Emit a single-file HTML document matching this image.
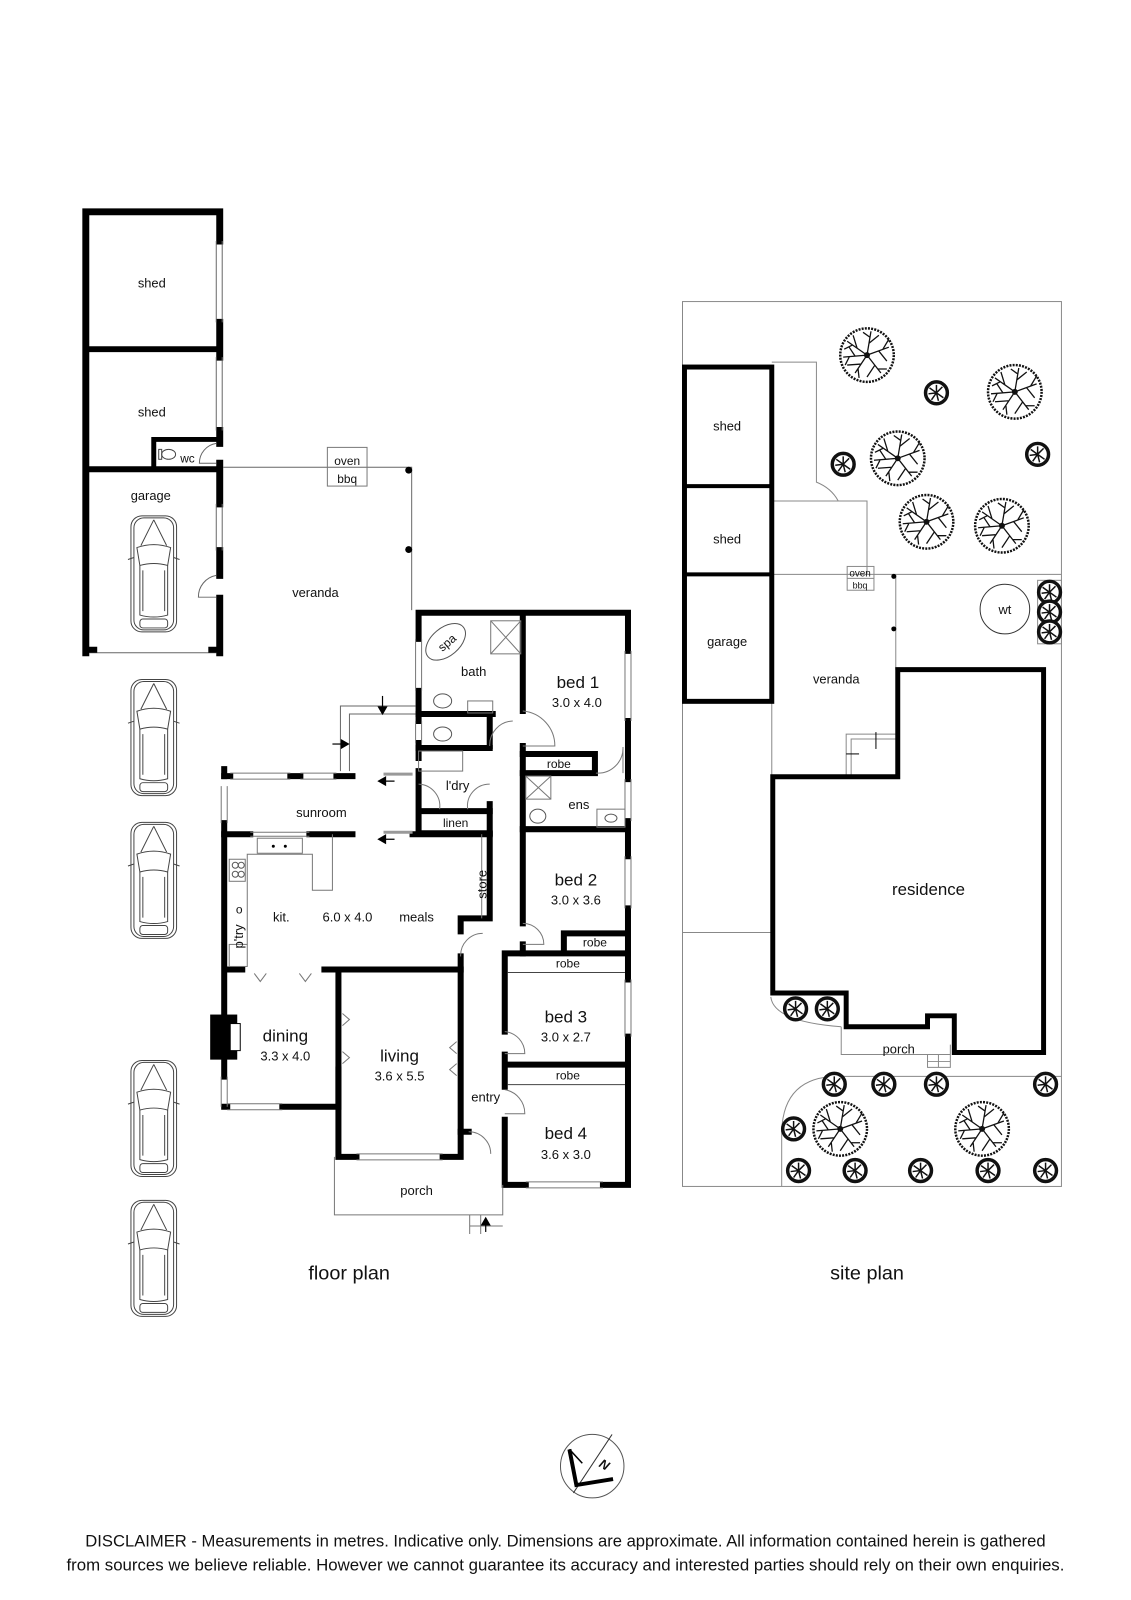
<!DOCTYPE html>
<html><head><meta charset="utf-8"><style>
html,body{margin:0;padding:0;background:#fff}
svg{display:block}
text{font-family:"Liberation Sans",sans-serif;fill:#111}
</style></head><body>
<svg width="1131" height="1600" viewBox="0 0 1131 1600" xmlns="http://www.w3.org/2000/svg">
<defs>
<g id="car" fill="none" stroke="#444" stroke-width="1">
<rect x="0" y="0" width="46" height="117" rx="11"/>
<rect x="3" y="2" width="40" height="113" rx="10"/>
<path d="M6 32 Q23 26 40 32 L37 50 Q23 46 9 50 Z"/>
<path d="M9 50 L9 100 Q23 104 37 100 L37 50"/>
<path d="M12 55 L12 96 M34 55 L34 96"/>
<path d="M23 4 L10 30 M23 4 L36 30"/>
<path d="M-3 44 L3 42 M49 44 L43 42"/>
<rect x="9" y="104" width="28" height="9" rx="3"/>
</g>
<g id="tbig">
<circle r="27" fill="#fff" stroke="#111" stroke-width="2.5" stroke-dasharray="2 1.2"/>
<g stroke="#111" stroke-width="1.3" fill="none">
<path d="M0 0 L-20 -14 M-10 -7 L-14 -20 M-15 -10 L-23 -6 M0 0 L4 -24 M2 -12 L12 -20 M3 -18 L-4 -23 M0 0 L22 -8 M12 -4 L20 6 M16 -6 L22 -16 M0 0 L14 18 M8 10 L0 22 M11 14 L20 14 M0 0 L-12 18 M-6 9 L-20 10 M-9 14 L-8 23 M0 0 L-24 2 M-12 1 L-18 -8 M-18 2 L-22 10"/>
</g>
<circle r="3" fill="#111"/>
</g>
<g id="tsm">
<circle r="11" fill="#fff" stroke="#111" stroke-width="3.5"/>
<path d="M0 0 L-7 -5 M0 0 L6 -6 M0 0 L7 5 M0 0 L-5 7 M0 0 L0 -8 M0 0 L-8 1 M0 0 L2 8" stroke="#111" stroke-width="1.5"/>
</g>
</defs>
<g transform="scale(0.992)">
<!-- ===== FLOOR PLAN ===== -->
<g stroke="#000" fill="none" stroke-linecap="square">
<path d="M86.5 658 V213.5 H221.5 V243" stroke-width="7"/>
<path d="M221.5 325 V360 M221.5 434 V447 M221.5 467 V508 M221.5 555 V580 M221.5 603 V658" stroke-width="7"/>
<path d="M90 352 H218 M90 473 H218" stroke-width="6"/>
<path d="M155 473 V443 H218" stroke-width="5"/>
</g>
<g stroke="#666" stroke-width="1" fill="none">
<path d="M218 243 V325 M224 243 V325 M218 360 V434 M224 360 V434 M218 508 V555 M224 508 V555"/>
<path d="M90 658 H218"/>
<path d="M218 447 A20 20 0 0 0 201 467 H218"/>
<path d="M218 580 A22 22 0 0 0 200 602 H218"/>
<path d="M225 471 H415 V615"/>
<rect x="330" y="451" width="40" height="39" stroke="#777"/>
</g>
<path d="M86 655 H98 M210 655 H222" stroke="#000" stroke-width="6"/>
<circle cx="412" cy="474" r="3.5"/><circle cx="412" cy="554" r="3.5"/>
<ellipse cx="170" cy="458" rx="7" ry="5" fill="none" stroke="#444"/>
<rect x="160" y="453" width="3" height="10" fill="none" stroke="#444"/>
<use href="#car" x="132" y="520"/>

<g font-size="13" text-anchor="middle">
<text x="153" y="290">shed</text>
<text x="153" y="420">shed</text>
<text x="189" y="466" font-size="12">wc</text>
<text x="152" y="504">garage</text>
<text x="350" y="469" font-size="12">oven</text>
<text x="350" y="487" font-size="12">bbq</text>
<text x="318" y="602">veranda</text>
</g>

<g transform="translate(1.8,-0.4) scale(1.01)">
<g stroke="#000" fill="none" stroke-width="6" stroke-linecap="square">
<path d="M416 638 V612 H625 V650"/>
<path d="M416 690 V720 M416 742 V757"/>
<path d="M625 720 V778 M625 820 V855 M625 907 V978 M625 1035 V1183 H600 M523 1183 H502 V1118"/>
<path d="M416 713 H490 M416 747 H487 M416 770 V832 H487 M419 810 H487"/>
<path d="M487 713 V745 M487 803 V917 H458 V930 M458 955 V1130 H466"/>
<path d="M520 615 V710 M520 745 V922 M520 943 V952"/>
<path d="M520 753 H592 V772 H520 M520 828 H625"/>
<path d="M561 948 V932 H622 M502 952 H625 V952 M502 952 V1030 M502 1063 H625 M502 1053 V1083 M502 1063 V1085"/>
<path d="M222 775 V768 M222 822 V1013 M222 1058 V1075 M222 1105 H225 M280 1105 H336 V968 M222 968 H240 M322 968 H458"/>
<path d="M336 1068 V1155 H354 M440 1155 H458 V1130"/>
<path d="M222 775 H228 M288 775 H298 M334 775 H350 M222 833 H248 M307 833 H350 M410 833 H487"/>
</g>
<rect x="208" y="1013" width="27" height="45" fill="#000"/>
<rect x="228" y="1022" width="10" height="27" fill="#fff" stroke="#000"/>
<g stroke="#777" stroke-width="1" fill="none">
<path d="M419 638 V690 M413 638 V690 M419 720 V742 M413 720 V742"/>
<path d="M622 650 V720 M628 650 V720 M622 778 V820 M628 778 V820 M622 855 V907 M628 855 V907 M622 978 V1035 M628 978 V1035"/>
<path d="M228 772 H288 M228 778 H288 M298 772 H334 M298 778 H334"/>
<path d="M219 785 V822 M225 785 V822 M219 1075 V1105 M225 1075 V1105 M225 1102 H280 M225 1108 H280"/>
<path d="M248 831 H307 M248 835 H307"/>
<path d="M354 1152 H440 M354 1158 H440 M523 1180 H600 M523 1186 H600"/>
<path d="M381 773 H410 M381 831 H410" stroke-width="3" stroke="#999"/>
<path d="M338 770 V705 H413 M347 770 V713 H413" stroke="#666"/>
<path d="M505 971 H622 M505 1083 H622" stroke="#444"/>
<path d="M487 745 A24 24 0 0 1 510 720 M520 710 A35 35 0 0 1 552 745 H520"/>
<path d="M593 772 A25 25 0 0 0 620 746 V772"/>
<path d="M416 783 A22 22 0 0 1 437 808 M487 783 A22 22 0 0 0 465 808"/>
<path d="M458 955 A22 22 0 0 1 480 932 M520 922 A21 21 0 0 1 541 943 H520"/>
<path d="M502 1030 A22 22 0 0 1 522 1052 H502 M502 1088 A24 24 0 0 1 522 1112 H502"/>
<path d="M466 1130 A22 22 0 0 1 488 1152"/>
<path d="M245 943 V853 H310 V889 H330 V833"/>
<path d="M479 833 V917"/>
<rect x="227" y="943" width="18" height="22"/>
<rect x="227" y="858" width="16" height="22"/>
<rect x="255" y="837" width="45" height="15"/>
<rect x="465" y="700" width="25" height="12"/>
<rect x="488" y="620" width="30" height="33"/><path d="M488 620 L518 653 M518 620 L488 653"/>
<rect x="523" y="775" width="25" height="23"/><path d="M523 775 L548 798 M548 775 L523 798"/>
<rect x="594" y="808" width="28" height="18"/>
<rect x="416" y="750" width="44" height="20"/>
<path d="M252 972 L258 980 L264 972 M297 972 L303 980 L309 972 M340 1012 L347 1018 L340 1024 M340 1050 L347 1056 L340 1062 M454 1040 L447 1046 L454 1052 M454 1062 L447 1068 L454 1074"/>
<path d="M332 1155 V1213 H500 V1183 M467 1213 V1232 M478 1213 V1232 M467 1224 H500"/>
</g>
<g fill="none" stroke="#555">
<ellipse cx="443" cy="641" rx="23" ry="14" transform="rotate(-40 443 641)"/>
<ellipse cx="440" cy="700" rx="9" ry="7"/><ellipse cx="440" cy="733" rx="9" ry="7"/>
<ellipse cx="535" cy="815" rx="8" ry="7"/><ellipse cx="608" cy="817" rx="6" ry="4"/>
<circle cx="233" cy="864" r="3"/><circle cx="239" cy="864" r="3"/><circle cx="233" cy="873" r="3"/><circle cx="239" cy="873" r="3"/>
</g>
<circle cx="271" cy="845" r="1.5"/><circle cx="283" cy="845" r="1.5"/>
<g stroke="#000" stroke-width="1.2" fill="#000">
<path d="M380 695 V712" /><path d="M376 706 L380 713 L384 706 Z"/>
<path d="M330 743 H345"/><path d="M339 739 L346 743 L339 747 Z"/>
<path d="M376 780 H392"/><path d="M383 776 L376 780 L383 784 Z"/>
<path d="M376 838 H392"/><path d="M383 834 L376 838 L383 842 Z"/>
<path d="M483 1230 V1218"/><path d="M479 1223 L483 1216 L487 1223 Z"/>
</g>
<g font-size="13" text-anchor="middle">
<text x="471" y="675">bath</text>
<text x="455" y="789">l'dry</text>
<text x="453" y="826" font-size="12">linen</text>
<text x="319" y="816">sunroom</text>
<text x="556" y="767" font-size="12">robe</text>
<text x="576" y="808">ens</text>
<text x="592" y="945" font-size="12">robe</text>
<text x="565" y="966" font-size="12">robe</text>
<text x="565" y="1078" font-size="12">robe</text>
<text x="279" y="920">kit.</text>
<text x="345" y="920">6.0 x 4.0</text>
<text x="414" y="920">meals</text>
<text x="483" y="1100">entry</text>
<text x="414" y="1193">porch</text>
<text font-size="13" transform="translate(241 935) rotate(-90)">p'try</text>
<text x="237" y="912" font-size="12">o</text>
<text transform="translate(484 883) rotate(-90)">store</text>
<text transform="translate(447 645) rotate(-40)" font-size="12">spa</text>
<text x="575" y="687" font-size="17">bed 1</text><text x="574" y="706">3.0 x 4.0</text>
<text x="573" y="884" font-size="17">bed 2</text><text x="573" y="903">3.0 x 3.6</text>
<text x="563" y="1021" font-size="17">bed 3</text><text x="563" y="1040">3.0 x 2.7</text>
<text x="563" y="1137" font-size="17">bed 4</text><text x="563" y="1157">3.6 x 3.0</text>
<text x="283" y="1040" font-size="17">dining</text><text x="283" y="1059">3.3 x 4.0</text>
<text x="397" y="1060" font-size="17">living</text><text x="397" y="1079">3.6 x 5.5</text>
</g>
</g>

<use href="#car" x="132" y="685"/>
<use href="#car" x="132" y="829"/>
<use href="#car" x="132" y="1069"/>
<use href="#car" x="132" y="1210"/>

<!-- ===== SITE PLAN ===== -->
<g fill="none" stroke="#888" stroke-width="1">
<rect x="688" y="304" width="382" height="892"/>
<path d="M778 365 H823 V486 Q838 492 845 505 H874 V579 M778 505 H845 M778 579 H1070"/>
<path d="M903 579 V675 M778 707 V782 M688 707 H778 M688 940 H777"/>
<path d="M853 782 V740 H905 M858 782 V745 H905"/>
<rect x="1046" y="585" width="24" height="64"/>
<rect x="854" y="571" width="27" height="24"/>
<path d="M854 583 H881"/>
<path d="M777 1005 Q780 1030 848 1035"/>
<path d="M848 1035 V1063 H958 V1053 M935 1063 V1076 H958 V1063 M946 1063 V1076 M935 1070 H958"/>
<path d="M1070 1085 H845 Q790 1085 788 1140 V1196"/>
</g>
<g stroke="#000" fill="none" stroke-width="5">
<rect x="690" y="370" width="88" height="337"/>
<path d="M690 490 H778 M690 579 H778" stroke-width="4"/>
<path d="M905 675 H1052 V1061 H962 V1024 H935 V1035 H853 V1001 H779 V783 H905 Z"/>
</g>
<circle cx="901" cy="581" r="2.5"/><circle cx="901" cy="634" r="2.5"/>
<circle cx="1013" cy="614" r="25" fill="none" stroke="#333"/>
<path d="M883 755 V738" stroke="#000"/><path d="M853 760 H866" stroke="#000"/>
<use href="#tbig" x="874" y="358"/>
<use href="#tbig" x="1023" y="395"/>
<use href="#tbig" x="905" y="462"/>
<use href="#tbig" x="934" y="526"/>
<use href="#tbig" x="1010" y="530"/>
<use href="#tsm" x="944" y="396"/>
<use href="#tsm" x="850" y="468"/>
<use href="#tsm" x="1046" y="458"/>
<use href="#tsm" x="1058" y="597"/><use href="#tsm" x="1058" y="617"/><use href="#tsm" x="1058" y="637"/>
<use href="#tsm" x="802" y="1017"/><use href="#tsm" x="834" y="1017"/>
<use href="#tsm" x="841" y="1093"/><use href="#tsm" x="891" y="1093"/><use href="#tsm" x="944" y="1093"/><use href="#tsm" x="1054" y="1093"/>
<use href="#tsm" x="800" y="1138"/>
<use href="#tbig" x="847" y="1138"/><use href="#tbig" x="990" y="1138"/>
<use href="#tsm" x="805" y="1180"/><use href="#tsm" x="862" y="1180"/><use href="#tsm" x="928" y="1180"/><use href="#tsm" x="996" y="1180"/><use href="#tsm" x="1054" y="1180"/>

<g font-size="13" text-anchor="middle">
<text x="733" y="434">shed</text>
<text x="733" y="548">shed</text>
<text x="733" y="651">garage</text>
<text x="843" y="689">veranda</text>
<text x="867" y="581" font-size="10">oven</text>
<text x="867" y="593" font-size="9">bbq</text>
<text x="1013" y="619">wt</text>
<text x="906" y="1062">porch</text>
<text x="936" y="902" font-size="17">residence</text>
</g>

<text x="352" y="1290" font-size="20" text-anchor="middle">floor plan</text>
<text x="874" y="1290" font-size="20" text-anchor="middle">site plan</text>

<circle cx="597" cy="1478" r="32" fill="none" stroke="#555"/>
<path d="M617 1446 L578 1505" stroke="#333" fill="none"/>
<path d="M574 1461 L581 1497 L618 1491" stroke="#000" stroke-width="4" fill="none"/>
<path d="M574 1461 L587 1475" stroke="#000" stroke-width="1.5"/>
<text x="603" y="1478" font-size="13" transform="rotate(30 603 1478)" font-style="italic" font-weight="bold">N</text>

<text x="570" y="1559" font-size="17" text-anchor="middle" textLength="968" lengthAdjust="spacingAndGlyphs">DISCLAIMER - Measurements in metres. Indicative only. Dimensions are approximate. All information contained herein is gathered</text>
<text x="570" y="1583" font-size="17" text-anchor="middle" textLength="1006" lengthAdjust="spacingAndGlyphs">from sources we believe reliable. However we cannot guarantee its accuracy and interested parties should rely on their own enquiries.</text>
</g>
</svg>
</body></html>
